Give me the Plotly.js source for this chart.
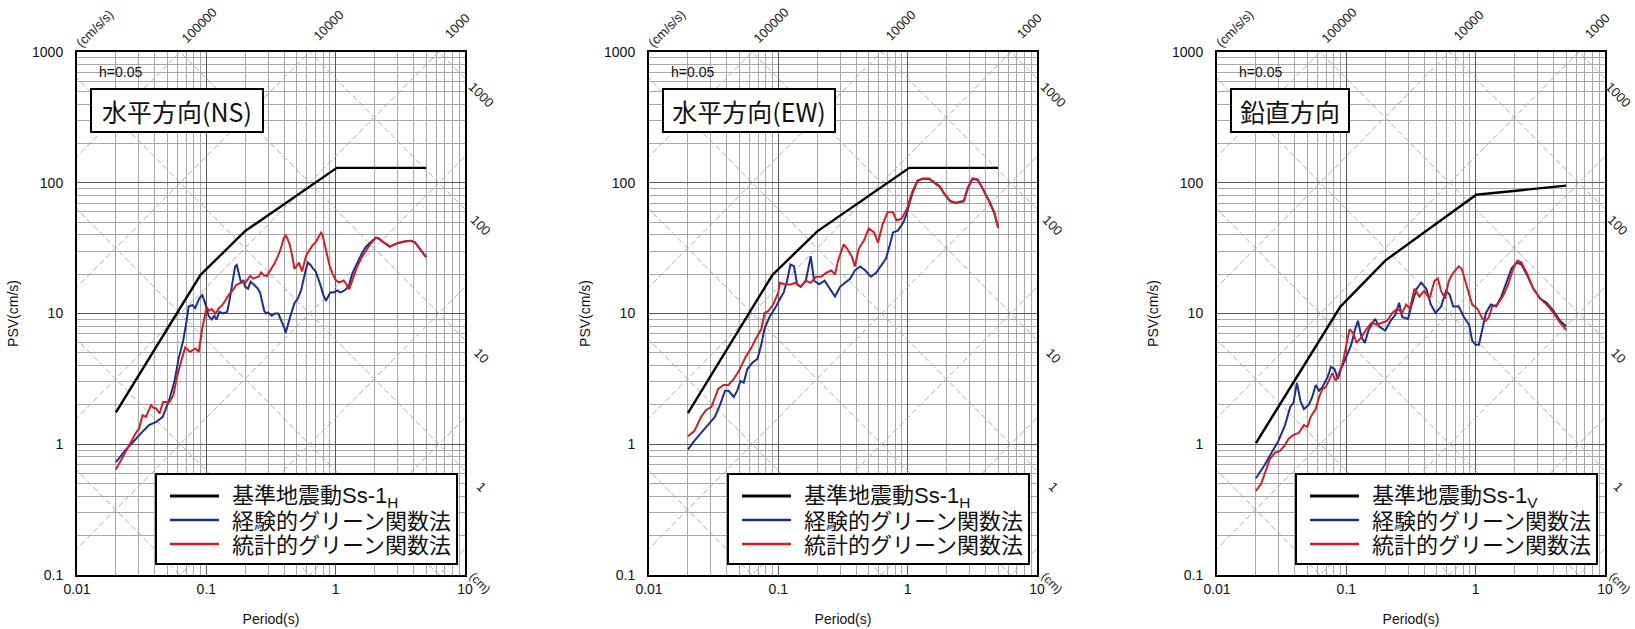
<!DOCTYPE html>
<html><head><meta charset="utf-8">
<script src="https://cdn.plot.ly/plotly-3.0.1.min.js"></script>
<style>html,body{margin:0;padding:0;background:#fff}</style>
</head><body>
<div id="chart" style="width:1635px;height:629px"></div>
<script>
// ---------- data ----------
const panelTitles = ['水平方向(NS)', '水平方向(EW)', '鉛直方向'];
const stdNames = ['基準地震動Ss-1<sub>H</sub>', '基準地震動Ss-1<sub>H</sub>', '基準地震動Ss-1<sub>V</sub>'];
const empName = '経験的グリーン関数法';
const staName = '統計的グリーン関数法';
const dampingLabel = 'h=0.05';
const xTickVals = [0.01, 0.1, 1, 10];
const xTickText = ['0.01', '0.1', '1', '10'];
const yTickVals = [0.1, 1, 10, 100, 1000];
const yTickText = ['0.1', '1', '10', '100', '1000'];
const accelLabels = [100000, 10000, 1000];      // cm/s/s
const dispLabels = [1000, 100, 10, 1];           // cm
const accelLevels = [0.1, 1, 10, 100, 1000, 10000, 100000, 1000000];
const dispLevels = [0.0001, 0.001, 0.01, 0.1, 1, 10, 100, 1000];

// NS
const nsStdT = [0.02, 0.09, 0.2, 1.02, 5.0];
const nsStdV = [1.75, 19.7, 42.8, 130, 130];
const nsEmpT = [0.02,0.0237,0.0302,0.036,0.041,0.046,0.052,0.057,0.061,0.066,0.07,0.073,0.078,0.082,0.088,0.093,0.098,0.104,0.11,0.115,0.12,0.126,0.135,0.145,0.152,0.16,0.167,0.172,0.178,0.186,0.193,0.2,0.21,0.22,0.235,0.25,0.26,0.27,0.28,0.29,0.3,0.32,0.34,0.36,0.38,0.4,0.41,0.43,0.45,0.48,0.51,0.54,0.56,0.59,0.61,0.64,0.67,0.7,0.76,0.8,0.84,0.88,0.91,0.96,1.03,1.08,1.13,1.2,1.27,1.34,1.42,1.5,1.6,1.7,1.8,1.9,2.05,2.15,2.25,2.4,2.62,2.8,3.0,3.4,3.8,4.1,4.3,4.6,5.0];
const nsEmpV = [0.73,0.9,1.17,1.4,1.48,1.62,2.23,3.1,4.5,6.1,8.5,11.3,11.6,11.0,13.0,13.8,12.0,9.6,9.0,9.6,9.0,10.3,10.0,10.3,13,18,23,23.5,20,17,18,16,15.5,17.5,16.5,15.5,14.5,12.5,10.5,10,10.2,9.6,10,10,8.8,7.8,7.1,8.5,9.8,12,13,15,17.7,22,24.5,23.5,22,21,16.7,14,12.5,13.5,14.5,14.5,15,14.5,14.7,15.3,16.5,20,23,25.5,29,32,34,35.5,38,37.5,36,34.5,32.5,33.5,34.5,35.5,36,35,33,30,27];
const nsStaT = [0.02,0.0225,0.025,0.0267,0.0285,0.0302,0.0321,0.0341,0.0356,0.0374,0.039,0.041,0.0435,0.0463,0.049,0.052,0.0556,0.059,0.0626,0.0686,0.0751,0.0823,0.0874,0.093,0.1006,0.105,0.11,0.118,0.125,0.132,0.14,0.15,0.16,0.17,0.18,0.19,0.2,0.21,0.218,0.23,0.245,0.255,0.265,0.28,0.294,0.31,0.32,0.34,0.36,0.375,0.395,0.41,0.425,0.44,0.46,0.48,0.5,0.52,0.55,0.57,0.59,0.62,0.66,0.7,0.74,0.77,0.79,0.81,0.85,0.9,0.95,0.99,1.05,1.1,1.16,1.22,1.27,1.32,1.38,1.46,1.56,1.66,1.78,1.9,2.05,2.15,2.25,2.4,2.62,2.8,3.0,3.4,3.8,4.1,4.3,4.6,5.0];
const nsStaV = [0.64,0.8,0.95,1.1,1.22,1.32,1.67,1.62,1.8,1.99,1.9,1.88,1.72,2.1,2.1,2.1,2.37,3.2,4.0,5.5,5.1,5.4,5.1,7.7,11.2,10.5,10.8,10.0,11.0,11.5,12.5,14,15,16.5,17,17.5,17.2,18.5,19.4,18.5,19,19.2,20.6,19.5,19.4,21,22,24.5,28,31,37,40,37,34,28,22,23,24.5,21,24,27.5,30,33,35,39,41.5,40,36,30,23,20,18.3,17.3,17.5,17.8,16.5,15.3,17,19.4,22.5,26,29,32,35,38,37.5,36,34.5,32.5,33.5,34.5,35.5,36,35,33,30,27];

// EW
const ewStdT = [0.02, 0.09, 0.2, 1.03, 5.0];
const ewStdV = [1.73, 19.7, 42.5, 130, 130];
const ewEmpT = [0.02,0.0224,0.0253,0.0286,0.0323,0.0354,0.0387,0.0412,0.0452,0.048,0.051,0.054,0.0576,0.063,0.069,0.0738,0.078,0.0857,0.094,0.1033,0.11,0.117,0.124,0.132,0.14,0.149,0.163,0.173,0.178,0.189,0.207,0.228,0.25,0.274,0.3,0.33,0.36,0.39,0.43,0.47,0.52,0.57,0.62,0.68,0.73,0.77,0.84,0.93,0.99,1.08,1.19,1.3,1.47,1.61,1.77,1.94,2.13,2.34,2.72,2.9,3.17,3.48,3.81,4.26,4.67,5.0];
const ewEmpV = [0.91,1.06,1.22,1.4,1.62,2.0,2.56,2.56,2.3,2.56,3.05,2.95,3.77,4.2,4.5,5.76,7.6,9.45,10.9,13,14.5,17.8,23.7,23,16.6,16,17.8,23.7,27.4,17.8,16.7,17.8,15.5,13.5,16,17.2,18.5,21.3,22.9,21.3,19.1,20.5,22.9,26.3,33.8,41.7,43,50,59.5,81.5,103,107,107,100,93,81,72,70,72,89,107,105,90,72,59,46];
const ewStaT = [0.02,0.0224,0.0253,0.0277,0.0304,0.0323,0.0343,0.0376,0.0412,0.0452,0.0496,0.0559,0.0613,0.067,0.0739,0.0783,0.0833,0.0912,0.1,0.103,0.113,0.124,0.136,0.149,0.163,0.178,0.196,0.214,0.235,0.257,0.274,0.29,0.32,0.34,0.37,0.39,0.42,0.46,0.5,0.55,0.59,0.64,0.7,0.77,0.82,0.9,0.99,1.08,1.19,1.3,1.47,1.61,1.77,1.94,2.13,2.34,2.72,2.9,3.17,3.48,3.81,4.26,4.67,5.0];
const ewStaV = [1.15,1.26,1.62,1.83,1.93,2.3,2.65,2.84,2.84,3.16,3.64,4.66,5.37,6.4,7.6,10.1,10.4,11.7,14.5,17.2,16.7,16.7,17.2,16.0,17.8,17.2,19.1,19.1,20.5,21.3,19.9,25.4,33.8,31.4,27.3,22.9,31.4,36.3,44.8,41.7,34.8,48,59.5,59.5,51.5,53.4,63.7,84.3,104,108,108,101,94,81.5,73,70.5,73,90.4,108,106,90.4,73,59.5,45];

// Vertical
const udStdT = [0.02, 0.09, 0.2, 1.01, 5.0];
const udStdV = [1.02, 11.3, 25.4, 81, 95];
const udEmpT = [0.02,0.0233,0.0264,0.0298,0.0336,0.0368,0.039,0.0415,0.0442,0.047,0.0513,0.0545,0.058,0.0616,0.0655,0.0717,0.076,0.081,0.086,0.091,0.097,0.103,0.109,0.117,0.123,0.131,0.139,0.148,0.157,0.167,0.18,0.2,0.22,0.24,0.256,0.27,0.3,0.32,0.35,0.38,0.415,0.45,0.49,0.54,0.59,0.63,0.67,0.74,0.81,0.89,0.94,1.0,1.06,1.13,1.2,1.31,1.44,1.58,1.73,1.89,2.07,2.26,2.48,2.79,3.15,3.54,4.0,4.5,5.0];
const udEmpV = [0.55,0.69,0.86,1.06,1.4,1.93,2.07,2.95,2.14,1.86,2.0,2.3,2.84,2.56,2.75,3.27,3.9,3.77,3.16,3.77,4.35,5.0,5.76,7.6,8.8,6.6,5.96,7.4,8.2,9.1,7.9,7.4,8.8,9.8,12.1,9.4,9.1,11.7,15.5,17.2,15.5,11.7,10.1,11.3,14.9,13.9,11.3,11.3,9.4,8.2,6.2,5.76,5.76,7.6,10.1,11.7,11.3,13.5,17.2,22,24.5,23.7,19.9,15.5,13,12.1,10.5,8.8,8.0];
const udStaT = [0.02,0.022,0.024,0.0256,0.028,0.0307,0.0336,0.0357,0.039,0.0428,0.047,0.05,0.053,0.058,0.0616,0.0655,0.0695,0.0737,0.078,0.083,0.088,0.094,0.1,0.106,0.113,0.12,0.131,0.143,0.157,0.172,0.189,0.207,0.227,0.248,0.27,0.29,0.31,0.336,0.367,0.4,0.44,0.48,0.51,0.54,0.58,0.62,0.67,0.74,0.78,0.86,0.94,1.03,1.13,1.2,1.27,1.34,1.47,1.62,1.78,1.95,2.1,2.26,2.48,2.79,3.15,3.54,4.0,4.5,5.0];
const udStaV = [0.44,0.5,0.64,0.77,0.86,0.89,0.99,1.1,1.18,1.22,1.4,1.36,1.62,1.86,2.3,2.65,2.75,3.16,3.5,3.05,3.5,4.2,5.76,7.6,7.1,5.96,6.6,7.6,8.5,8.2,8.5,8.8,10.1,10.9,10.1,11.7,10.9,15.5,13.5,14.9,13,17.8,18.5,14.9,13,17.8,20.5,22.9,22,15.5,11.7,10.9,9.1,8.8,9.45,11.3,11.7,13.5,16.6,22,25.4,24.5,20.5,15.5,13,11.7,10.1,8.5,7.5];

const panels = [
  {stdT: nsStdT, stdV: nsStdV, empT: nsEmpT, empV: nsEmpV, staT: nsStaT, staV: nsStaV},
  {stdT: ewStdT, stdV: ewStdV, empT: ewEmpT, empV: ewEmpV, staT: ewStaT, staV: ewStaV},
  {stdT: udStdT, stdV: udStdV, empT: udEmpT, empV: udEmpV, staT: udStaT, staV: udStaV}
];

// ---------- layout geometry ----------
const W = 1635, H = 629;
const panelLeft = [77, 649, 1217];
const panelWidth = 388;
const plotTop = 52, plotBottom = 575;
const colors = {std: '#000000', emp: '#1c2f8c', sta: '#d21f26'};
const widths = {std: 2.4, emp: 2, sta: 2};
const latin = 'Liberation Sans, Arial, sans-serif';
const cjk = 'Liberation Sans, Noto Sans CJK JP, sans-serif';

const traces = [];
const layout = {
  width: W, height: H,
  margin: {l: 0, r: 0, t: 0, b: 0},
  paper_bgcolor: '#fff', plot_bgcolor: '#fff',
  showlegend: false,
  annotations: [], shapes: []
};

const TWO_PI = 2 * Math.PI;
const lineT = [0.001, 100];
const px = v => v / W, py = v => 1 - v / H;

panels.forEach((p, i) => {
  const n = i === 0 ? '' : String(i + 1);
  const xa = 'x' + n, ya = 'y' + n;
  const L = panelLeft[i];

  // tripartite diagonal grid
  accelLevels.forEach(a => {
    traces.push({x: lineT, y: lineT.map(t => a * t / TWO_PI), xaxis: xa, yaxis: ya,
      mode: 'lines', line: {color: '#b0b0b0', width: 1, dash: '6px,3px'},
      hoverinfo: 'skip', showlegend: false});
  });
  dispLevels.forEach(d => {
    traces.push({x: lineT, y: lineT.map(t => TWO_PI * d / t), xaxis: xa, yaxis: ya,
      mode: 'lines', line: {color: '#b0b0b0', width: 1, dash: '6px,3px'},
      hoverinfo: 'skip', showlegend: false});
  });

  const series = [
    {x: p.stdT, y: p.stdV, name: stdNames[i], key: 'std'},
    {x: p.empT, y: p.empV, name: empName, key: 'emp'},
    {x: p.staT, y: p.staV, name: staName, key: 'sta'}
  ];
  series.forEach(s => {
    traces.push({x: s.x, y: s.y, xaxis: xa, yaxis: ya, mode: 'lines', name: s.name,
      line: {color: colors[s.key], width: widths[s.key]}, showlegend: false});
  });

  layout['xaxis' + n] = {
    type: 'log', range: [-2, 1], domain: [px(L), px(L + panelWidth)], anchor: ya,
    tickvals: xTickVals, ticktext: xTickText, ticks: '', ticklabelstandoff: 0,
    tickfont: {family: latin, size: 14, color: '#111'},
    showgrid: true, gridcolor: '#5a5a5a', gridwidth: 1,
    minor: {dtick: 'D1', showgrid: true, gridcolor: '#a8a8a8', gridwidth: 1},
    showline: true, mirror: true, linecolor: '#000', linewidth: 2, zeroline: false,
    title: {text: 'Period(s)', font: {family: latin, size: 14, color: '#111'}, standoff: 18}
  };
  layout['yaxis' + n] = {
    type: 'log', range: [-1, 3], domain: [py(plotBottom), py(plotTop)], anchor: xa,
    tickvals: yTickVals, ticktext: yTickText, ticks: '', ticklabelstandoff: 9,
    tickfont: {family: latin, size: 14, color: '#111'},
    showgrid: true, gridcolor: '#5a5a5a', gridwidth: 1,
    minor: {dtick: 'D1', showgrid: true, gridcolor: '#a8a8a8', gridwidth: 1},
    showline: true, mirror: true, linecolor: '#000', linewidth: 2, zeroline: false,
    title: {text: 'PSV(cm/s)', font: {family: latin, size: 14, color: '#111'}, standoff: 10}
  };

  // legend box (drawn)
  const lx0 = L + 79, lx1 = L + 380, ly0 = 474, ly1 = 564;
  layout.shapes.push({type: 'rect', xref: 'paper', yref: 'paper',
    x0: px(lx0), x1: px(lx1), y0: py(ly1), y1: py(ly0),
    line: {color: '#000', width: 2}, fillcolor: '#fff', layer: 'above'});
  series.forEach((s, k) => {
    const rowY = 496 + k * 24;
    layout.shapes.push({type: 'line', xref: 'paper', yref: 'paper',
      x0: px(L + 93), x1: px(L + 142), y0: py(rowY), y1: py(rowY),
      line: {color: colors[s.key], width: widths[s.key] + 0.4}, layer: 'above'});
    layout.annotations.push({xref: 'paper', yref: 'paper', x: px(L + 153), y: py(rowY + 1),
      xanchor: 'left', yanchor: 'middle', showarrow: false, text: s.name,
      font: {family: cjk, size: 22, color: '#111'}});
  });

  const xd = xa + ' domain', yd = ya + ' domain';
  const rightShift = i === 2 ? 13 : 16;
  // damping label
  layout.annotations.push({xref: xd, yref: yd, x: 20 / panelWidth, y: 1 - 20 / 523,
    xanchor: 'left', yanchor: 'middle', showarrow: false, text: dampingLabel,
    font: {family: latin, size: 14, color: '#111'}});
  // panel title box
  layout.annotations.push({xref: xd, yref: yd, x: 13 / panelWidth, y: 1 - 36 / 523,
    xanchor: 'left', yanchor: 'top', showarrow: false, text: panelTitles[i],
    width: i === 2 ? 112 : 166, height: 37, align: 'center', valign: 'middle',
    bgcolor: '#fff', bordercolor: '#000', borderwidth: 2, borderpad: 2,
    font: {family: 'Noto Sans CJK JP, sans-serif', size: 25, color: '#111'}});
  // acceleration labels (top)
  layout.annotations.push({xref: xd, yref: yd, x: 0, y: 1, xanchor: 'center', yanchor: 'middle',
    xshift: 18, yshift: 23, showarrow: false, text: '(cm/s/s)', textangle: -45,
    font: {family: latin, size: 13, color: '#222'}});
  accelLabels.forEach(a => {
    const t = TWO_PI * 1000 / a;
    layout.annotations.push({xref: xd, yref: yd, x: (Math.log10(t) + 2) / 3, y: 1,
      xanchor: 'center', yanchor: 'middle',
      xshift: 19, yshift: 26, showarrow: false, text: String(a), textangle: -45,
      font: {family: latin, size: 13, color: '#222'}});
  });
  // displacement labels (right)
  dispLabels.forEach(d => {
    const v = TWO_PI * d / 10;
    layout.annotations.push({xref: xd, yref: yd, x: 1, y: (Math.log10(v) + 1) / 4,
      xanchor: 'center', yanchor: 'middle',
      xshift: rightShift, yshift: -16, showarrow: false, text: String(d), textangle: 45,
      font: {family: latin, size: 13, color: '#222'}});
  });
  layout.annotations.push({xref: xd, yref: yd, x: 1, y: 0, xanchor: 'center', yanchor: 'middle',
    xshift: 15, yshift: -8, showarrow: false, text: '(cm)', textangle: 45,
    font: {family: latin, size: 12, color: '#222'}});
});

Plotly.newPlot('chart', traces, layout, {displayModeBar: false, staticPlot: true});
</script>
</body></html>
